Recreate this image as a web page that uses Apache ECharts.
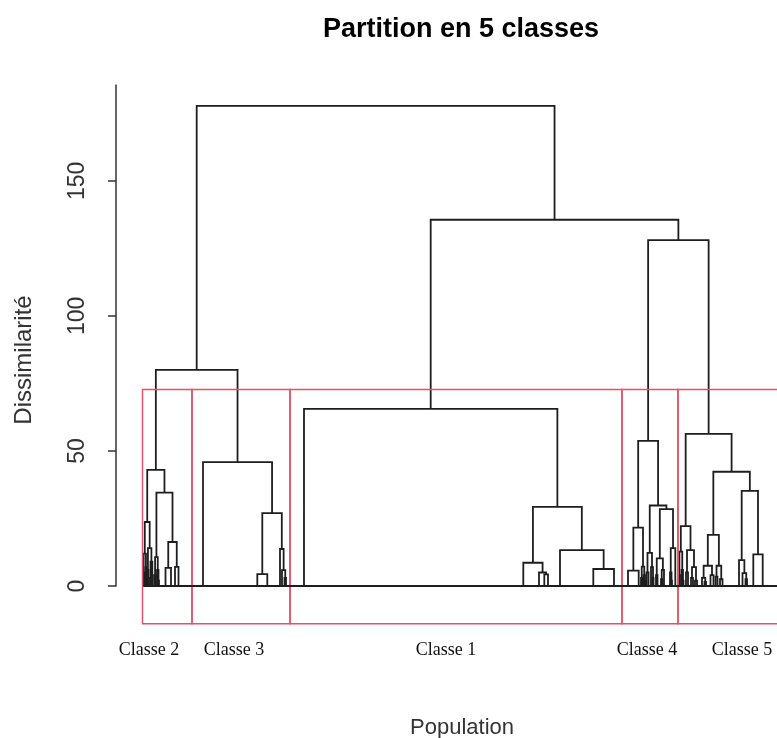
<!DOCTYPE html>
<html>
<head>
<meta charset="utf-8">
<script src="https://cdn.jsdelivr.net/npm/echarts@6/dist/echarts.min.js"></script>
<style>html,body{margin:0;padding:0;background:#fff}#c{width:777px;height:738px}</style>
</head>
<body>
<div id="c"></div>
<script>
// ---------------- data ----------------
// Node = [height, left, right]; a leaf is a number = rank position of the individual.
const yTicks = [0, 50, 100, 150];
const classNames = ['Classe 2', 'Classe 3', 'Classe 1', 'Classe 4', 'Classe 5'];
const classBounds = [26.5, 76, 174, 506, 562, 670];

const class2Tree = [43,
  [23.7,
    [12, [5, 27.2, [2.5, 27.8, 28.5]], [7, [3, 29, 29.7], 30.5]],
    [14, [6, [2, 31, 31.7], 32.5], [9, [3, 34, 35], [4, 35.8, 36.8]]]],
  [34.6,
    [10.7, [4, 38.5, [1.5, 39.3, 40]], [6, 41, [2, 42, 43]]],
    [16.3, [6.7, 49.5, 55], [7.1, 59, 62.5]]]];

const class3Tree = [45.9, 87,
  [27, [4.4, 141.3, 151.3], [13.7, 164, [5.9, 166, [3, 168.5, 170]]]]];

const class1Tree = [65.6, 188,
  [29.3,
    [8.6, 407.3, [5.0, 423, [4.3, 428.3, 432]]],
    [13.3, 444, [6.3, 477.3, 498]]]];

const class4Tree = [53.7,
  [21.6, [5.7, 512, 522.7], [7.2, [3, 525, 526.5], [4, 527.5, [2, 528.5, 529.5]]]],
  [29.8,
    [12.3, [5, 530.5, 532.5], [7, 535, [3, 536.5, 537.5]]],
    [28.5,
      [10.2, [4, 540, 541.5], [6, [2.5, 545, 546.5], 548]],
      [14, [5, 554, [2, 555, 556]], 559.3]]]];

const class5Tree = [56.3,
  [22.2,
    [12.7, [4, 562.8, 564], [6, 565.5, [2, 566.5, 567.5]]],
    [13.3, [5, 570, 572], [7, [3, 575, 577], [2, 579, 581]]]],
  [42.3,
    [18.9,
      [7.5, [3, 586, [1.5, 588.5, 590]], [4, 594.5, 597.5]],
      [7.5, [3.5, 599.5, 601.5], [2.5, 604, 606.5]]],
    [35.2,
      [9.6, 623, [4.8, 626.5, [2.5, 629.5, 631]]],
      [11.7, 637.3, 646.7]]]];

const upperTree = [177.8, [80, 'Classe 2', 'Classe 3'],
  [135.6, 'Classe 1', [128.1, 'Classe 4', 'Classe 5']]];

// ---------------- build ----------------
const classTrees = {
  'Classe 1': class1Tree, 'Classe 2': class2Tree, 'Classe 3': class3Tree,
  'Classe 4': class4Tree, 'Classe 5': class5Tree
};
const segments = [];   // [xa, ha, xb, hb, h]
const mergeHeights = [];
const leaves = [];
function layout(node) {
  if (typeof node === 'number') { leaves.push(node); return { x: node, h: 0 }; }
  if (typeof node === 'string') return layout(classTrees[node]);
  const a = layout(node[1]);
  const b = layout(node[2]);
  segments.push([a.x, a.h, b.x, b.h, node[0]]);
  mergeHeights.push(node[0]);
  return { x: (a.x + b.x) / 2, h: node[0] };
}
layout(upperTree);
mergeHeights.sort((p, q) => q - p);
const k = 5;
const cutHeight = (mergeHeights[k - 2] + mergeHeights[k - 1]) / 2;
const firstLeaf = Math.min.apply(null, leaves);

const X_MAX = 661, Y_MAX = 185.5;
const RECT_BOTTOM = -14, LABEL_Y = -23.7;
const labelAnchors = [33, 118, 330, 531, 626];

const rectData = classNames.map((n, i) => [classBounds[i], classBounds[i + 1], i]);

const LINE = '#1e1e1e';
const RED = '#DF536B';
const LW = 1.8;

const chart = echarts.init(document.getElementById('c'), null, { renderer: 'canvas' });
chart.setOption({
  animation: false,
  backgroundColor: '#fff',
  grid: { left: 116, right: 0, top: 85, bottom: 152 },
  xAxis: { type: 'value', min: 0, max: X_MAX, show: false },
  yAxis: {
    type: 'value', min: 0, max: Y_MAX, interval: 50,
    axisLine: { show: true, lineStyle: { color: '#333', width: 1.5 } },
    axisTick: { show: true, length: 8, customValues: yTicks, lineStyle: { color: '#333', width: 1.5 } },
    axisLabel: {
      customValues: yTicks, rotate: 90, margin: 27,
      fontSize: 23, fontFamily: 'Liberation Sans, Arial, sans-serif', color: '#333'
    },
    splitLine: { show: false }
  },
  graphic: [
    { type: 'text', x: 461, y: 30,
      style: { text: 'Partition en 5 classes', font: 'bold 27px "Liberation Sans", Arial, sans-serif',
        fill: '#000', textAlign: 'center', textVerticalAlign: 'middle', align: 'center', verticalAlign: 'middle' } },
    { type: 'text', x: 24, y: 360, rotation: Math.PI / 2,
      style: { text: 'Dissimilarité', font: '24px "Liberation Sans", Arial, sans-serif',
        fill: '#333', textAlign: 'center', textVerticalAlign: 'middle', align: 'center', verticalAlign: 'middle' } },
    { type: 'text', x: 462, y: 728,
      style: { text: 'Population', font: '22px "Liberation Sans", Arial, sans-serif',
        fill: '#333', textAlign: 'center', textVerticalAlign: 'middle', align: 'center', verticalAlign: 'middle' } }
  ],
  series: [
    {
      type: 'line', name: 'baseline', silent: true, clip: false,
      data: [[firstLeaf, 0], [X_MAX, 0]], symbol: 'none',
      lineStyle: { color: LINE, width: LW }
    },
    {
      type: 'custom', name: 'dendrogram', silent: true, clip: false,
      data: segments,
      encode: { x: [0, 2], y: [1, 3, 4] },
      renderItem: function (params, api) {
        const p0 = api.coord([api.value(0), api.value(1)]);
        const p1 = api.coord([api.value(0), api.value(4)]);
        const p2 = api.coord([api.value(2), api.value(4)]);
        const p3 = api.coord([api.value(2), api.value(3)]);
        return { type: 'polyline', shape: { points: [p0, p1, p2, p3] },
          style: { fill: 'none', stroke: LINE, lineWidth: LW } };
      }
    },
    {
      type: 'custom', name: 'classes', silent: true, clip: false,
      data: rectData,
      encode: { x: [0, 1] },
      renderItem: function (params, api) {
        const i = api.value(2);
        const tl = api.coord([api.value(0), cutHeight]);
        const br = api.coord([api.value(1), RECT_BOTTOM]);
        const lp = api.coord([labelAnchors[i], LABEL_Y]);
        return { type: 'group', children: [
          { type: 'rect', shape: { x: tl[0], y: tl[1], width: br[0] - tl[0], height: br[1] - tl[1] },
            style: { fill: 'none', stroke: RED, lineWidth: 1.5 } },
          { type: 'text', x: lp[0], y: lp[1],
            style: { text: classNames[i], font: '18px "Liberation Serif", "Times New Roman", serif',
              fill: '#111', textAlign: 'center', textVerticalAlign: 'middle', align: 'center', verticalAlign: 'middle' } }
        ] };
      }
    }
  ]
});
</script>
</body>
</html>
